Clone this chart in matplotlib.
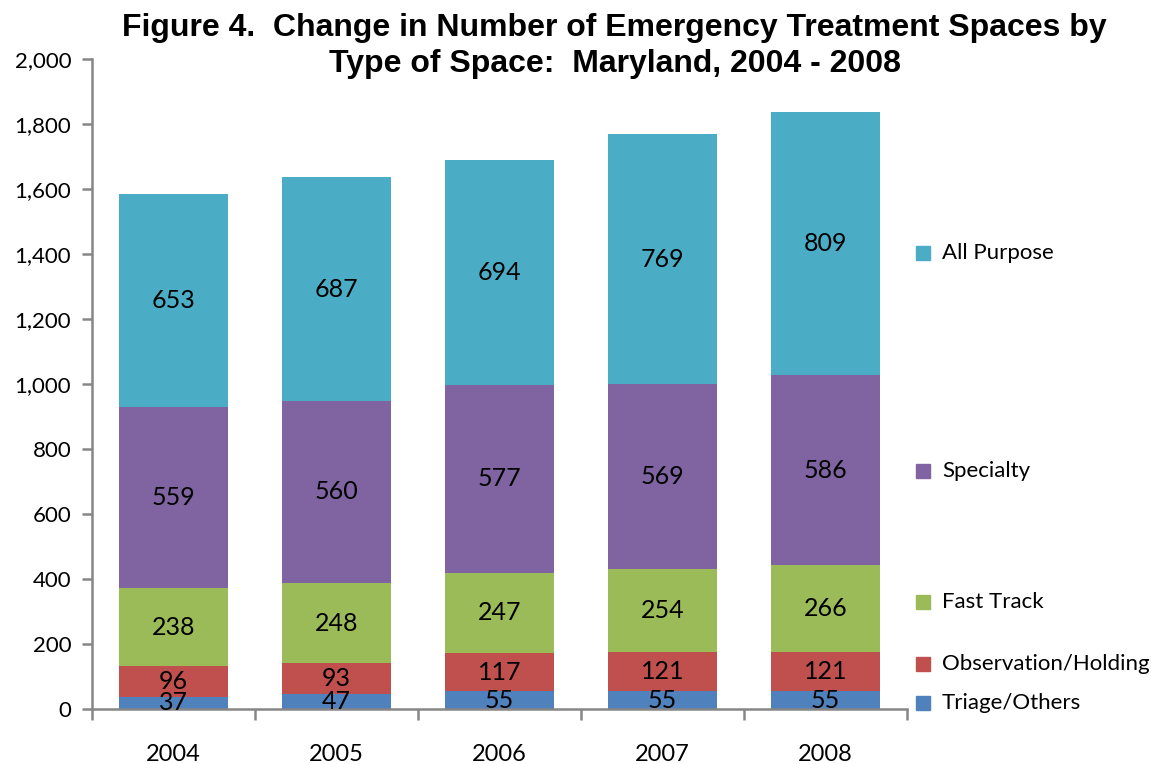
import matplotlib.pyplot as plt
import numpy as np
from matplotlib.ticker import FuncFormatter

years = ['2004', '2005', '2006', '2007', '2008']
triage = [37, 47, 55, 55, 55]
observation = [96, 93, 117, 121, 121]
fast_track = [238, 248, 247, 254, 266]
specialty = [559, 560, 577, 569, 586]
all_purpose = [653, 687, 694, 769, 809]

series = [('Triage/Others', triage, '#4F81BD'),
          ('Observation/Holding', observation, '#C0504D'),
          ('Fast Track', fast_track, '#9BBB59'),
          ('Specialty', specialty, '#8064A2'),
          ('All Purpose', all_purpose, '#4BACC6')]

plt.rcParams['font.family'] = ['Lato', 'DejaVu Sans']

fig = plt.figure(figsize=(11.51, 7.64), dpi=100)
ax = fig.add_axes([0.080, 0.072, 0.708, 0.851])

ind = np.arange(len(years))
bottom = np.zeros(len(years))
legend_y = []
for name, vals, color in series:
    vals = np.array(vals)
    rects = ax.bar(ind, vals, 0.67, bottom=bottom, color=color, label=name)
    for rect, v, b in zip(rects, vals, bottom):
        ax.text(rect.get_x() + rect.get_width() / 2, b + v / 2, '%d' % v,
                ha='center', va='center', fontsize=18)
    legend_y.append(bottom[-1] + vals[-1] / 2)
    bottom = bottom + vals

ax.set_xlim(-0.5, len(years) - 0.5)
ax.set_ylim(0, 2000)
ax.set_yticks(range(0, 2001, 200))
ax.yaxis.set_major_formatter(FuncFormatter(lambda v, p: '{:,.0f}'.format(v)))
ax.set_xticks(ind)
ax.set_xticklabels(years)
ax.set_xticks(np.arange(-0.5, len(years)), minor=True)

for s in ['top', 'right']:
    ax.spines[s].set_visible(False)
for s in ['left', 'bottom']:
    ax.spines[s].set_color('#868686')
    ax.spines[s].set_linewidth(1.8)

ax.tick_params(axis='y', direction='out', length=7, width=1.8, color='#868686',
               labelsize=16, pad=8)
ax.tick_params(axis='x', which='major', length=0, labelsize=17, pad=25)
ax.tick_params(axis='x', which='minor', direction='out', length=8, width=1.8,
               color='#868686')

# legend entries next to the matching segment of the last bar (Excel style)
trans = ax.get_yaxis_transform()
offsets = [-9, 23, 20, -3, -29]
for (name, vals, color), y, off in zip(series, legend_y, offsets):
    ax.plot([1.02], [y + off], marker='s', markersize=10, color=color,
            transform=trans, clip_on=False)
    ax.text(1.043, y + off, name, transform=trans, fontsize=16,
            va='center', ha='left')

fig.text(0.534, 0.983, 'Figure 4.  Change in Number of Emergency Treatment Spaces by\n'
         'Type of Space:  Maryland, 2004 - 2008',
         ha='center', va='top', fontsize=23, fontweight='bold',
         family='Liberation Sans', linespacing=1.25)

fig.savefig('out.png', dpi=100)
